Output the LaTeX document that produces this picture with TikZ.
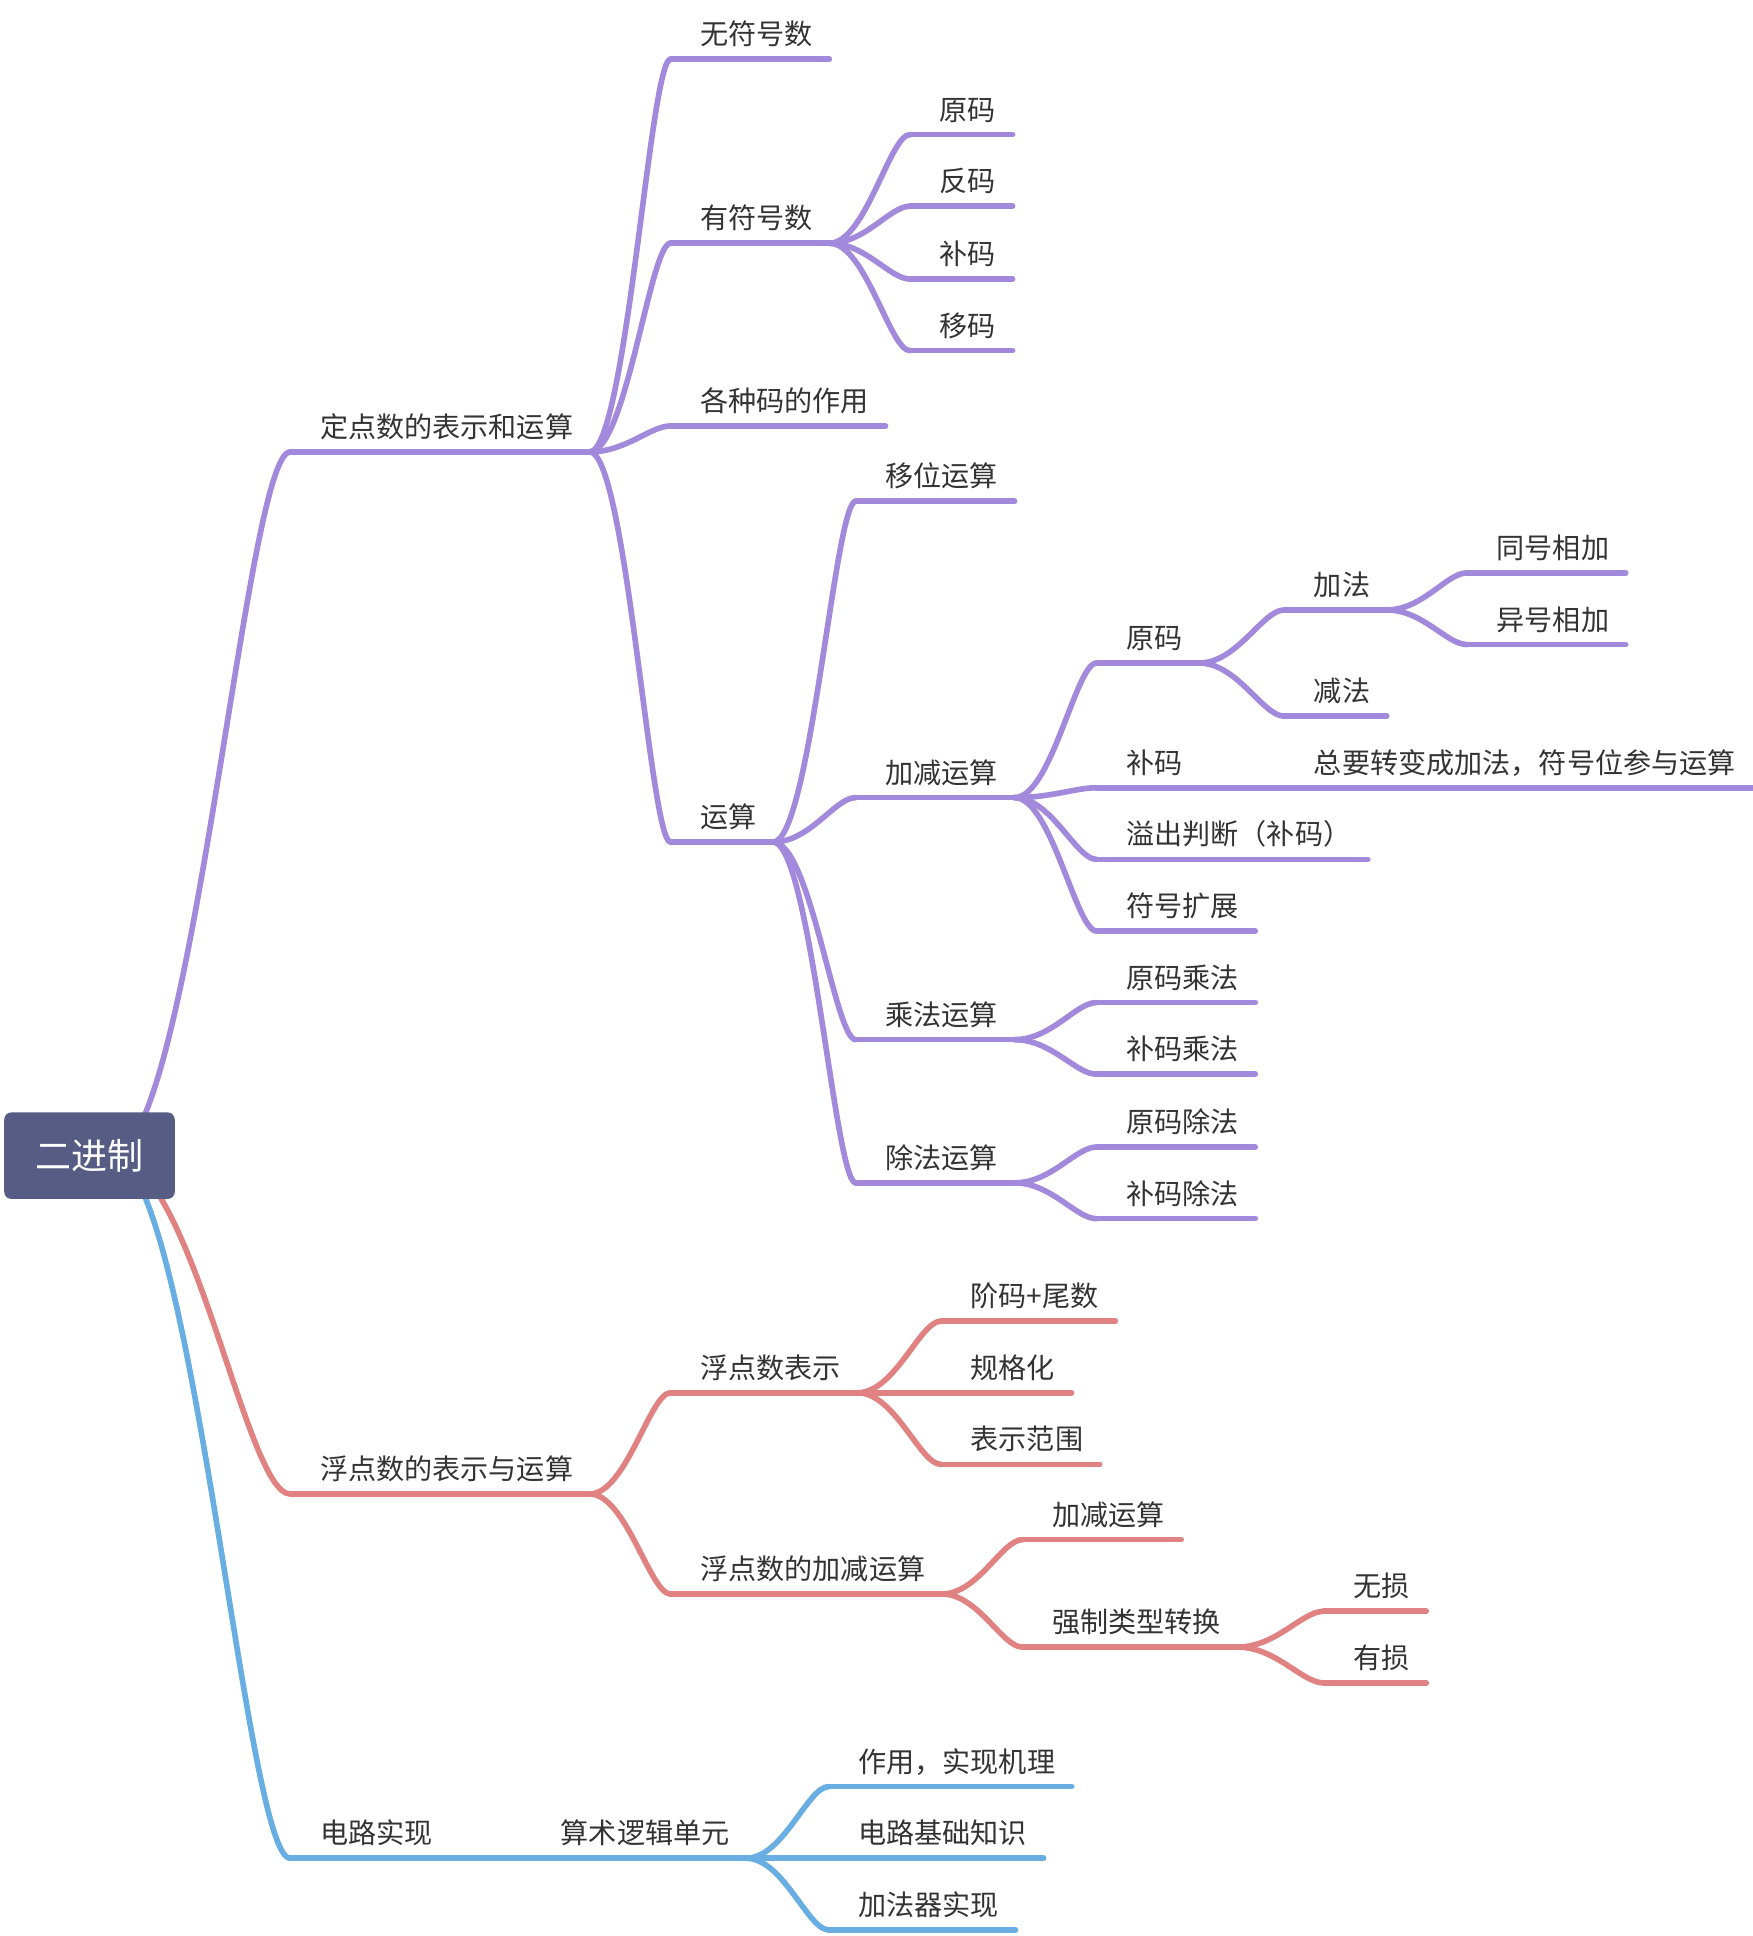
\documentclass[tikz,border=0pt]{standalone}
\usepackage{fontspec}
\setmainfont{Noto Sans CJK SC}
\usetikzlibrary{calc,backgrounds}
\definecolor{rootfill}{HTML}{565C84}
\definecolor{purp}{HTML}{A289DC}
\definecolor{rose}{HTML}{E08282}
\definecolor{sky}{HTML}{68AEE2}
\definecolor{ink}{HTML}{333333}
\tikzset{
  rootbox/.style={fill=rootfill, rounded corners=4pt, minimum width=3.41cm,
    minimum height=1.73cm, text=white, font=\fontsize{20.5}{20.5}\selectfont},
  topic/.style={anchor=south west, inner xsep=9.2pt, inner ysep=8pt,
    text depth=0pt, text=ink, font=\fontsize{16}{16}\selectfont,
    execute at begin node=\hspace*{7.6pt}},
  wire/.style={line width=3.2pt, line cap=round},
  curvy/.style={to path={let \p1=(\tikztostart), \p2=(\tikztotarget) in
    .. controls ({\x1+0.45*(\x2-\x1)},\y1) and ({\x1+0.75*(\x2-\x1)},\y2) .. (\tikztotarget)}},
}
\begin{document}
\begin{tikzpicture}[x=0.024694cm, y=-0.024694cm]
  \useasboundingbox (0,0) rectangle (1419,1568);
  % 中心主题
  \node[rootbox] (root) at (72.5,936) {二进制};
  % 定点数
  \node[topic] (d1) at (235,366) {定点数的表示和运算};
  \node[topic] (a1) at (543,48) {无符号数};
  \node[topic] (a2) at (543,197) {有符号数};
  \node[topic] (a3) at (543,345) {各种码的作用};
  \node[topic] (a4) at (543,682) {运算};
  \node[topic] (b1) at (737,109) {原码};
  \node[topic] (b2) at (737,167) {反码};
  \node[topic] (b3) at (737,226) {补码};
  \node[topic] (b4) at (737,284) {移码};
  \node[topic] (c1) at (693,406) {移位运算};
  \node[topic] (c2) at (693,646) {加减运算};
  \node[topic] (c3) at (693,842) {乘法运算};
  \node[topic] (c4) at (693,958) {除法运算};
  \node[topic] (e1) at (888,537) {原码};
  \node[topic] (e2) at (888,638) {补码};
  \node[topic] (e3) at (888,696) {溢出判断（补码）};
  \node[topic] (e4) at (888,754) {符号扩展};
  \node[topic] (e5) at (888,812) {原码乘法};
  \node[topic] (e6) at (888,870) {补码乘法};
  \node[topic] (e7) at (888,929) {原码除法};
  \node[topic] (e8) at (888,987) {补码除法};
  \node[topic] (f1) at (1040,494) {加法};
  \node[topic] (f2) at (1040,580) {减法};
  \node[topic] (f3) at (1040,638) {总要转变成加法，符号位参与运算};
  \node[topic] (g1) at (1188,464) {同号相加};
  \node[topic] (g2) at (1188,522) {异号相加};
  % 浮点数
  \node[topic] (d2) at (235,1210) {浮点数的表示与运算};
  \node[topic] (a5) at (543,1128) {浮点数表示};
  \node[topic] (a6) at (543,1291) {浮点数的加减运算};
  \node[topic] (b5) at (762,1070) {阶码+尾数};
  \node[topic] (b6) at (762,1128) {规格化};
  \node[topic] (b7) at (762,1186) {表示范围};
  \node[topic] (b8) at (828,1247) {加减运算};
  \node[topic] (b9) at (828,1334) {强制类型转换};
  \node[topic] (c5) at (1072,1305) {无损};
  \node[topic] (c6) at (1072,1363) {有损};
  % 电路
  \node[topic] (d3) at (235,1505) {电路实现};
  \node[topic] (a7) at (430,1505) {算术逻辑单元};
  \node[topic] (b10) at (671,1447) {作用，实现机理};
  \node[topic] (b11) at (671,1505) {电路基础知识};
  \node[topic] (b12) at (671,1563) {加法器实现};

  \begin{pgfonlayer}{background}
    \draw[wire, purp] ([xshift=0.43cm]root.center) to[curvy] (d1.south west);
    \draw[wire, rose] ([xshift=0.43cm]root.center) to[curvy] (d2.south west);
    \draw[wire, sky] ([xshift=0.43cm]root.center) to[curvy] (d3.south west);
    % 下划线
    \foreach \n in {d1,a1,a2,a3,a4,b1,b2,b3,b4,c1,c2,c3,c4,e1,e2,e3,e4,e5,e6,e7,e8,f1,f2,f3,g1,g2}
      \draw[wire, purp] (\n.south west) -- (\n.south east);
    \foreach \n in {d2,a5,a6,b5,b6,b7,b8,b9,c5,c6}
      \draw[wire, rose] (\n.south west) -- (\n.south east);
    \foreach \n in {d3,a7,b10,b11,b12}
      \draw[wire, sky] (\n.south west) -- (\n.south east);
    % 分支
    \foreach \p/\c in {d1/a1,d1/a2,d1/a3,d1/a4,a2/b1,a2/b2,a2/b3,a2/b4,
        a4/c1,a4/c2,a4/c3,a4/c4,c2/e1,c2/e2,c2/e3,c2/e4,c3/e5,c3/e6,c4/e7,c4/e8,
        e1/f1,e1/f2,e2/f3,f1/g1,f1/g2}
      \draw[wire, purp] (\p.south east) to[curvy] (\c.south west);
    \foreach \p/\c in {d2/a5,d2/a6,a5/b5,a5/b6,a5/b7,a6/b8,a6/b9,b9/c5,b9/c6}
      \draw[wire, rose] (\p.south east) to[curvy] (\c.south west);
    \foreach \p/\c in {d3/a7,a7/b10,a7/b11,a7/b12}
      \draw[wire, sky] (\p.south east) to[curvy] (\c.south west);
  \end{pgfonlayer}
\end{tikzpicture}
\end{document}
